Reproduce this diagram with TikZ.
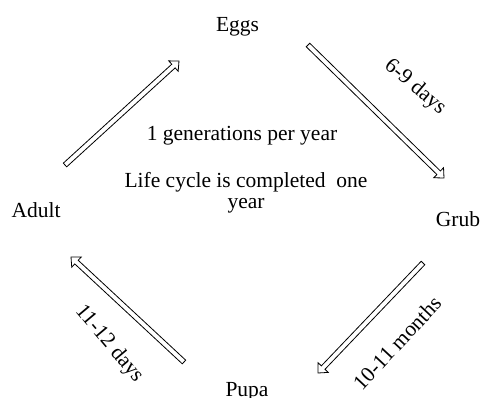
\documentclass[tikz,border=0pt]{standalone}
\usepackage{fontspec}
\setmainfont{Liberation Serif}
\usetikzlibrary{calc}
\tikzset{
  lbl/.style={font=\fontsize{21.5}{21}\selectfont, inner sep=0pt, anchor=base},
  rlbl/.style={font=\fontsize{21.5}{21}\selectfont, inner sep=0pt, anchor=center},
  harrow/.style={draw=black, line width=0.8pt, fill=white, line join=miter}
}
\newcommand{\hollowarrow}[2]{%
  \coordinate (neck) at ($(#2)!7.5pt!(#1)$);
  \draw[harrow] ($(#1)!2.5pt!90:(#2)$) -- ($(neck)!2.5pt!90:(#2)$) -- ($(neck)!7pt!90:(#2)$)
    -- (#2) -- ($(neck)!7pt!-90:(#2)$) -- ($(neck)!2.5pt!-90:(#2)$) -- ($(#1)!2.5pt!-90:(#2)$) -- cycle;
}
\begin{document}
\begin{tikzpicture}[x=1pt,y=-1pt]
  \useasboundingbox (0,0) rectangle (480,398);
  % stage labels
  \node[lbl] (eggs) at (237.5,32) {Eggs};
  \node[lbl] (grub) at (458,227) {Grub};
  \node[lbl] (pupa) at (247,397) {Pupa};
  \node[lbl] (adult) at (36,218) {Adult};
  % centre texts
  \node[lbl] (gen) at (242,141) {1 generations per year};
  \node[lbl, align=center] (life) at (246,209) {Life cycle is completed\ \ one\\year};
  % arrow end points
  \coordinate (a1) at (65,165);  \coordinate (b1) at (179,61);
  \coordinate (a2) at (308,45);  \coordinate (b2) at (444,178);
  \coordinate (a3) at (423,263); \coordinate (b3) at (318,373);
  \coordinate (a4) at (184,362); \coordinate (b4) at (71,257);
  \hollowarrow{a1}{b1}
  \hollowarrow{a2}{b2}
  \hollowarrow{a3}{b3}
  \hollowarrow{a4}{b4}
  % duration labels
  \node[rlbl, rotate=-40] (d1) at (415,87) {6-9 days};
  \node[rlbl, rotate=47] (d2) at (397,343) {10-11 months};
  \node[rlbl, rotate=-50] (d3) at (109,344) {11-12 days};
\end{tikzpicture}
\end{document}
